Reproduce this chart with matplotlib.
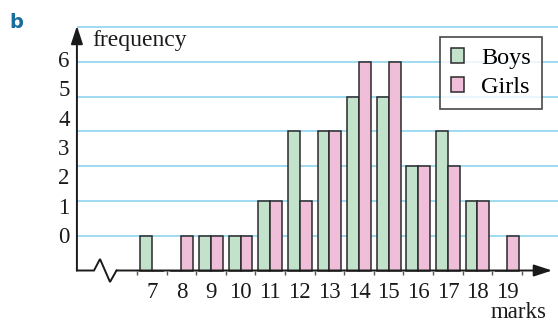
import numpy as np
import matplotlib
matplotlib.use("Agg")
import matplotlib.pyplot as plt

# ---- data ----
marks = [7, 8, 9, 10, 11, 12, 13, 14, 15, 16, 17, 18, 19]
boys = [1, 0, 1, 1, 2, 4, 4, 5, 5, 3, 4, 2, 0]
girls = [0, 1, 1, 1, 2, 2, 4, 6, 6, 3, 3, 2, 1]
ytick_labels = ["0", "1", "2", "3", "4", "5", "6"]
grid_levels = [1, 2, 3, 4, 5, 6, 7]

# ---- style ----
FONT = "Liberation Serif"
BOY_C = "#c3e2cb"
GIRL_C = "#efbfd9"
GRID_C = "#8dd4f0"
EDGE_C = "#2a2a2a"
AX_C = "#1a1a1a"

fig = plt.figure(figsize=(5.58, 3.25), dpi=100)
ax = fig.add_axes([0, 0, 1, 1])
ax.set_xlim(1.872, 20.72)
ax.set_ylim(-1.566, 7.773)
ax.axis("off")

x = np.array(marks, dtype=float)
yaxis_x = 4.47

# grid lines
ax.hlines(grid_levels, yaxis_x, 20.72, colors=GRID_C, lw=1.2, zorder=1)

# bars
w = 0.4
b1 = ax.bar(x - w / 2, boys, width=w, color=BOY_C, edgecolor=EDGE_C, lw=1.1,
            zorder=3, label="Boys")
b2 = ax.bar(x + w / 2, girls, width=w, color=GIRL_C, edgecolor=EDGE_C, lw=1.1,
            zorder=3, label="Girls")

# y axis with arrow
ax.annotate("", xy=(yaxis_x, 7.03), xytext=(yaxis_x, 0),
            arrowprops=dict(arrowstyle="-|>,head_length=1.1,head_width=0.36",
                            color=AX_C, lw=1.4, shrinkA=0, shrinkB=0),
            zorder=5)

# x axis with break and arrow
ax.plot([yaxis_x, 5.047, 5.25, 5.588, 5.807], [0, 0, 0.33, -0.33, 0],
        color=AX_C, lw=1.4, zorder=5, solid_joinstyle="miter")
ax.annotate("", xy=(20.52, 0), xytext=(5.807, 0),
            arrowprops=dict(arrowstyle="-|>,head_length=1.1,head_width=0.36",
                            color=AX_C, lw=1.4, shrinkA=0, shrinkB=0),
            zorder=5)

# tick marks at class boundaries
bounds = np.append(x - 0.5, x[-1] + 0.5)
ax.vlines(bounds, -0.12, 0, colors="#555555", lw=1.0, zorder=4)

# x tick labels
for xi, m in zip(x, marks):
    ax.text(xi, -0.62, str(m), ha="center", va="center", fontsize=16.5,
            family=FONT, color=AX_C)

# y tick labels (as printed, offset from grid)
ypos = np.linspace(0.95, 6.0, len(ytick_labels))
for yp, lab in zip(ypos, ytick_labels):
    ax.text(4.22, yp, lab, ha="right", va="center", fontsize=16.5,
            family=FONT, color=AX_C)

# axis titles
ax.text(4.98, 6.45, "frequency", ha="left", va="baseline", fontsize=17,
        family=FONT, color=AX_C)
ax.text(20.35, -1.22, "marks", ha="right", va="center", fontsize=16.5,
        family=FONT, color=AX_C)

# panel letter
fig.text(0.016, 0.96, "b", ha="left", va="top", fontsize=14,
         fontweight="heavy", color="#1a6e9e", family="DejaVu Sans")

# legend
leg = ax.legend(handles=[b1, b2], loc="upper right",
                bbox_to_anchor=(0.971, 0.886), borderaxespad=0,
                frameon=True, fancybox=False, edgecolor=AX_C,
                prop=dict(family=FONT, size=17.5),
                handlelength=0.55, handleheight=0.55, handletextpad=0.7,
                labelspacing=0.33, borderpad=0.45)
leg.get_frame().set_linewidth(1.2)
leg.set_zorder(10)

fig.savefig("out.png", dpi=100)
